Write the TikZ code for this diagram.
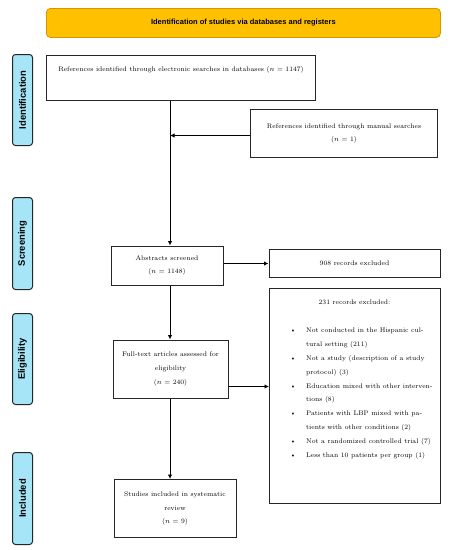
\documentclass[tikz,border=0pt]{standalone}
\usepackage{fontspec}
\setsansfont{Liberation Sans}
\usetikzlibrary{arrows.meta}
\definecolor{bannerfill}{RGB}{255,192,0}
\definecolor{bannerdraw}{RGB}{214,150,0}
\definecolor{sidefill}{RGB}{166,228,248}
\newcommand{\txt}{\fontsize{6.7}{13.8}\selectfont}
\tikzset{
  box/.style={draw=black!85, line width=1pt, inner sep=0pt, align=center, font=\txt, anchor=north west},
  side/.style={draw=black!85, fill=sidefill, line width=1pt, rounded corners=3pt, minimum width=20pt, inner sep=0pt, anchor=north west},
  sidetext/.style={font=\sffamily\bfseries\fontsize{9.4}{10}\selectfont, rotate=90},
  arr/.style={line width=1pt, -{Latex[length=4.5pt,width=4.5pt]}},
}
\begin{document}
\begin{tikzpicture}[x=1pt,y=-1pt]
\useasboundingbox (0,0) rectangle (452,550);
\coordinate (spine) at (170,0);
% banner
\node[draw=bannerdraw, fill=bannerfill, line width=0.8pt, rounded corners=4pt, minimum width=394pt, minimum height=29pt, inner sep=0pt, anchor=north west, font=\sffamily\bfseries\fontsize{7.5}{8}\selectfont] (banner) at (46,8) {Identification of studies via databases and registers};
% side labels
\node[side, minimum height=91pt] (sid) at (12,54) {};
\node[sidetext] (sidt) at (sid.center) {Identification};
\node[side, minimum height=92pt] (sscr) at (12,197) {};
\node[sidetext] (sscrt) at (sscr.center) {Screening};
\node[side, minimum height=91pt] (selig) at (12,313) {};
\node[sidetext] (seligt) at (selig.center) {Eligibility};
\node[side, minimum height=92pt] (sinc) at (12,452) {};
\node[sidetext] (sinct) at (sinc.center) {Included};
% boxes
\node[box, minimum width=269pt, minimum height=45pt] (ref) at (46,55) {};
\node[font=\txt, inner sep=0pt] (reft) at (181,70) {References identified through electronic searches in databases ($n$ = 1147)};
\node[box, minimum width=187pt, minimum height=48pt] (man) at (250,109) {References identified through manual searches\\($n$ = 1)};
\node[box, minimum width=112pt, minimum height=39pt] (abs) at (110.5,245.5) {Abstracts screened\\($n$ = 1148)};
\node[box, minimum width=171pt, minimum height=28pt] (exc) at (268.5,249) {908 records excluded};
\node[box, minimum width=115pt, minimum height=58pt] (ft) at (112.5,339.5) {Full-text articles assessed for\\eligibility\\($n$ = 240)};
\node[box, minimum width=171pt, minimum height=215pt] (exc2) at (269,287.5) {};
\node[font=\txt, inner sep=0pt] (exc2t) at (354.5,302) {231 records excluded:};
\node[font=\txt, inner sep=0pt, anchor=north west, align=left] (exc2l) at (290,323) {%
\begin{tabular}{@{}p{16pt}@{}l@{}}
\textbullet & Not conducted in the Hispanic cul-\\
 & tural setting (211)\\
\textbullet & Not a study (description of a study\\
 & protocol) (3)\\
\textbullet & Education mixed with other interven-\\
 & tions (8)\\
\textbullet & Patients with LBP mixed with pa-\\
 & tients with other conditions (2)\\
\textbullet & Not a randomized controlled trial (7)\\
\textbullet & Less than 10 patients per group (1)
\end{tabular}};
\node[box, minimum width=122pt, minimum height=58pt] (inc) at (113.5,479) {Studies included in systematic\\review\\($n$ = 9)};
% connectors
\draw[arr] (ref.south -| spine) -- (abs.north -| spine);
\draw[arr] ([yshift=-2pt]man.west) coordinate (m1) -- (m1 -| spine);
\draw[arr] (abs.east |- exc.west) -- (exc.west);
\draw[arr] (abs.south -| spine) -- (ft.north -| spine);
\draw[arr] ([yshift=12pt]ft.south east) coordinate (f1) -- (f1 -| exc2.west);
\draw[arr] (ft.south -| spine) -- (inc.north -| spine);
\end{tikzpicture}
\end{document}
